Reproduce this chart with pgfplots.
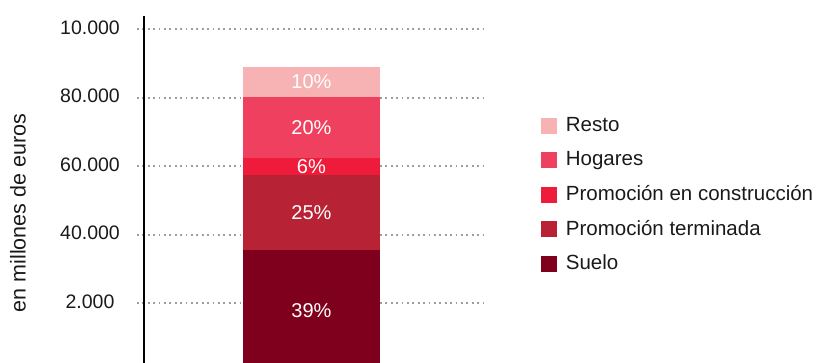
\documentclass[border=0pt]{standalone}
\usepackage{pgfplots}
\pgfplotsset{compat=1.18}
\usepackage{fontspec}
\setmainfont{Liberation Sans}
\definecolor{cSuelo}{RGB}{126,0,28}
\definecolor{cTerm}{RGB}{183,34,52}
\definecolor{cCons}{RGB}{238,28,58}
\definecolor{cHog}{RGB}{240,64,96}
\definecolor{cResto}{RGB}{247,179,179}
\definecolor{cGrid}{RGB}{165,155,148}
\definecolor{cText}{RGB}{26,26,26}
\begin{document}
\fontsize{19.5bp}{23bp}\selectfont
\begin{tikzpicture}
\begin{axis}[
  name=ax,
  scale only axis,
  width=350bp, height=347bp,
  xmin=-174.4, xmax=175.6,
  ymin=2570, ymax=103884,
  ybar stacked,
  bar width=137bp,
  axis line style={draw=none},
  major tick length=0pt,
  xtick=\empty,
  scaled y ticks=false,
  ytick={20000,40000,60000,80000,100000},
  yticklabels={2.000,40.000,60.000,80.000,10.000},
  yticklabel style={anchor=center, xshift=-47bp, yshift=2bp, text=cText},
  ymajorgrids,
  grid style={cGrid, line width=1.8bp, dash pattern=on 1.8bp off 3.6bp},
  ylabel={en millones de euros},
  every axis y label/.style={at={(rel axis cs:-0.34,0.432)}, rotate=90, anchor=center, text=cText, font=\fontsize{21.5bp}{25bp}\selectfont},
  nodes near coords style={white, anchor=center, font=\fontsize{20bp}{24bp}\selectfont},
  legend style={draw=none, fill=none, at={(rel axis cs:1.154,0.483)}, anchor=west, inner sep=0pt, outer sep=0pt, row sep=12.8bp, text=cText, font=\fontsize{20.5bp}{24bp}\selectfont,
    /tikz/every odd column/.append style={column sep=7bp}},
  legend cell align=left,
  reverse legend,
  legend image code/.code={\fill[#1] (0bp,-8bp) rectangle (16bp,8bp);},
]
\addplot[fill=cSuelo, draw=none, nodes near coords={39\%}] coordinates {(0,35560)};
\addplot[fill=cTerm, draw=none, nodes near coords={25\%}] coordinates {(0,21900)};
\addplot[fill=cCons, draw=none, nodes near coords={6\%}] coordinates {(0,5050)};
\addplot[fill=cHog, draw=none, nodes near coords={20\%}] coordinates {(0,17720)};
\addplot[fill=cResto, draw=none, nodes near coords={10\%}] coordinates {(0,8850)};
\legend{Suelo, Promoción terminada, Promoción en construcción, Hogares, Resto}
\draw[line width=1.7bp, black] (rel axis cs:0.02,0) -- (rel axis cs:0.02,1);
\end{axis}
\pgfresetboundingbox
\path[use as bounding box] ([xshift=-137bp]ax.south west) rectangle ([xshift=680bp,yshift=363bp]ax.south west);
\end{tikzpicture}
\end{document}
